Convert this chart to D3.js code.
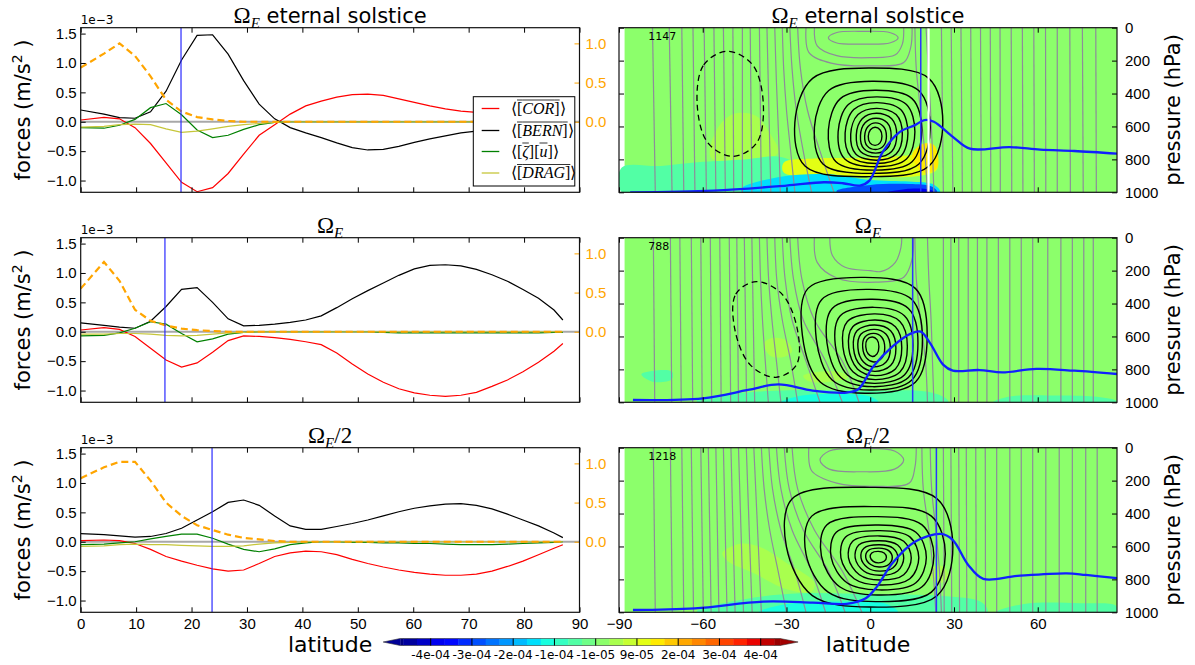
<!DOCTYPE html>
<html><head><meta charset="utf-8">
<script src="https://cdn.jsdelivr.net/npm/d3@7/dist/d3.min.js"></script>
<style>html,body{margin:0;padding:0;background:#fff;} svg{display:block}</style>
</head><body>
<svg id="fig" width="1195" height="665" xmlns="http://www.w3.org/2000/svg"></svg>
<script>
// ================= DATA =================
const lats = [0,4.2,7.0,9.8,12.6,15.4,18.2,21.0,23.8,26.6,29.4,32.2,35.0,37.8,40.6,43.4,46.2,49.0,51.8,54.6,57.4,60.2,63.0,65.8,68.6,71.4,74.2,77.0,79.8,82.6,85.4,87.0];

const corSol  = [0.03,0.075,0.05,-0.1,-0.37,-0.7,-1.03,-1.19,-1.12,-0.88,-0.55,-0.23,-0.05,0.13,0.27,0.35,0.42,0.46,0.47,0.45,0.39,0.33,0.27,0.22,0.18,0.16,0.14,0.13,0.12,0.11,0.1,0.09];
const bernSol = [0.2,0.13,0.07,0.06,0.17,0.52,1.05,1.47,1.48,1.15,0.7,0.3,0.05,-0.1,-0.19,-0.27,-0.36,-0.44,-0.48,-0.47,-0.42,-0.35,-0.29,-0.24,-0.19,-0.16,-0.14,-0.12,-0.11,-0.1,-0.09,-0.08];
const zetaSol = [-0.1,-0.11,-0.06,0.04,0.24,0.31,0.12,-0.14,-0.27,-0.23,-0.13,-0.05,-0.01,0,0,0,0,0,0,0,0,0,0,0,0,0,0,0,0,0,0,0];
const dragSol = [-0.09,-0.08,-0.05,-0.04,-0.05,-0.12,-0.18,-0.16,-0.12,-0.08,-0.05,-0.03,-0.01,0,0,0,0,0,0,0,0,0,0,0,0,0,0,0,0,0,0,0];
const rightSol = [0.69,0.87,1.0,0.84,0.58,0.28,0.13,0.06,0.03,0.01,0,0,0,0,0,0,0,0,0,0,0,0,0,0,0,0,0,0,0,0,0,0];
const corE  = [0.03,0.07,0.04,-0.08,-0.28,-0.48,-0.6,-0.53,-0.35,-0.15,-0.07,-0.08,-0.1,-0.13,-0.17,-0.22,-0.36,-0.55,-0.72,-0.86,-0.97,-1.04,-1.08,-1.1,-1.08,-1.03,-0.93,-0.82,-0.68,-0.52,-0.33,-0.2];
const bernE = [0.15,0.11,0.08,0.06,0.18,0.43,0.72,0.75,0.5,0.22,0.1,0.11,0.13,0.16,0.2,0.27,0.41,0.56,0.7,0.83,0.96,1.07,1.13,1.14,1.12,1.06,0.97,0.86,0.72,0.57,0.37,0.2];
const zetaE = [-0.07,-0.06,-0.02,0.06,0.17,0.13,-0.03,-0.17,-0.12,-0.04,-0.01,0,0,0,0,0,0,0,0,-0.01,-0.02,-0.02,-0.02,-0.02,-0.02,-0.02,-0.02,-0.02,-0.02,-0.02,-0.01,-0.01];
const dragE = [-0.04,-0.04,-0.03,-0.03,-0.04,-0.06,-0.07,-0.06,-0.04,-0.02,-0.01,0,0,0,0,0,0,0,0,0,0,0,0,0,0,0,0,0,0,0,0,0];
const rightE = [0.55,0.89,0.65,0.28,0.14,0.08,0.04,0.02,0.01,0,0,0,0,0,0,0,0,0,0,0,0,0,0,0,0,0,0,0,0,0,0,0];
const corHalf  = [0.02,0.03,0.02,-0.03,-0.13,-0.25,-0.33,-0.4,-0.46,-0.5,-0.48,-0.37,-0.25,-0.19,-0.16,-0.17,-0.22,-0.3,-0.37,-0.43,-0.48,-0.52,-0.55,-0.57,-0.57,-0.55,-0.5,-0.42,-0.33,-0.22,-0.11,-0.05];
const bernHalf = [0.14,0.12,0.1,0.08,0.09,0.14,0.23,0.37,0.51,0.67,0.71,0.62,0.44,0.27,0.21,0.21,0.26,0.31,0.37,0.44,0.51,0.57,0.61,0.64,0.65,0.62,0.56,0.47,0.37,0.27,0.15,0.07];
const zetaHalf = [-0.05,-0.04,-0.02,0,0.05,0.09,0.13,0.13,0.06,-0.04,-0.13,-0.17,-0.12,-0.05,-0.02,0,0,-0.01,-0.01,-0.02,-0.02,-0.03,-0.03,-0.04,-0.05,-0.05,-0.05,-0.04,-0.03,-0.02,-0.01,0];
const dragHalf = [-0.08,-0.07,-0.05,-0.04,-0.05,-0.05,-0.06,-0.07,-0.08,-0.08,-0.07,-0.04,-0.02,-0.01,0,0,0,0,0,0,0,0,0,0,0,0,0,0,0,0,0,0];
const rightHalf = [0.81,0.95,1.02,1.02,0.78,0.5,0.33,0.21,0.15,0.09,0.05,0.03,0.01,0,0,0,0,0,0,0,0,0,0,0,0,0,0,0,0,0,0,0];

const edgeLat = [18.1, 15.2, 23.7];
const panelCounts = ["1147", "788", "1218"];

const forceTicks = [-1.0,-0.5,0.0,0.5,1.0,1.5];
const rightTicks = [0.0,0.5,1.0];
const latTicksL = [0,10,20,30,40,50,60,70,80,90];
const latTicksR = [-90,-60,-30,0,30,60];
const presTicks = [0,200,400,600,800,1000];
const cbTicks = [-4.1e-4,-3.1e-4,-2.1e-4,-1.1e-4,-0.1e-4,0.9e-4,1.9e-4,2.9e-4,3.9e-4];
const cbLabels = ["-4e-04","-3e-04","-2e-04","-1e-04","-1e-05","9e-05","2e-04","3e-04","4e-04"];
const cbRange = [-4.84e-4, 4.37e-4];
const colorNorm = [-4.85e-4, 4.6e-4];

const psiSol  = [[-27,26,245,905],[-20,21.5,325,885],[-15,18.5,380,865],[-11.5,16,420,845],[-9,13.5,455,825],[-7,11.5,490,805],[-5,9.5,520,785],[-3.5,7.5,550,762],[-2,5.8,578,740],[-0.7,4.2,605,715]];
const psiE    = [[-24.3,20.4,241,945],[-19.3,18.7,314,925],[-15.5,17.1,374,905],[-12.5,15.3,423,885],[-9.8,13.3,463,862],[-7.7,11.3,500,838],[-6,9.2,530,812],[-4.4,7.2,557,785],[-2.7,5.2,581,755],[-1.6,3.1,603,722]];
const psiHalf = [[-30,29.6,241,968],[-23,26.9,358,935],[-17.5,22.8,419,895],[-14,20.1,470,864],[-10.5,17.4,504,834],[-7.8,14.7,536,804],[-5.4,12,565,775],[-3.3,9.9,590,750],[-1.6,7.9,610,725],[0,5.8,630,700]];
const psiSkew = [-2, 3.4, 5.5];
const negSol = [-62,-38.3,143,782];
const negE   = [-48.5,-26.1,267,848];
const negSkew = [1, 3.5];

const momSol = [[-78,-77],[-72,-71],[-67.5,-66.8],[-63.5,-62.8],[-59.5,-58.7],[-56,-55.3],[-52.6,-51.9],[-49.2,-48.9],[-45.8,-45.8],[-43,-42.4],[-39.7,-39],[-37,-35.6],[-34.2,-33.6,-32.8,-32.2],
  [-31.5,-31,-30,-28.5,-27],[-28.8,-28,-26.5,-24,-21],[-26,-25,-22.5,-18,-13],
  [16,16.5,18,19.5,20.5],[20,20.8,21.6,22.3,22.8],
  [25.5,26.2],[29,29.6],[32.5,33],[36,36.4],[39.5,39.8],[43,43.2],[46.5,46.6],[50.5,50.7],[54.5,54.7],[58.6,58.8],[62.8,62.9],[67,67],[71.5,71.7],[76,76.3],[80.8,81]];
const momE = [[-77.7,-77.2],[-71.6,-71.1],[-68.2,-67.7],[-64.1,-63.6],[-60.7,-60.2],[-57.3,-56.8],[-53.9,-53.4],[-50.5,-50],[-47.8,-47.2],[-45.1,-44.3],[-42.4,-41.4],
  [-39.7,-39.3,-38.6,-37.6,-36.5],[-37,-36.4,-35.2,-33.6,-32],[-34.2,-33.5,-31.5,-28.5,-26],[-31.5,-30.5,-28,-23,-18],[-28.8,-27.5,-24,-16,-10],[-26,-24.5,-20,-10,-4],
  [16,16.5,18,19.8,20.5],[20.5,21,21.8,22.3,22.8],
  [26.2,26.2],[28.9,28.9],[31.7,31.7],[35.1,35.1],[38.4,38.4],[41.8,41.8],[45.9,45.9],[50,50],[54.1,54.1],[58.2,58.2],[63.6,63.6],[68.3,68.3],[72.4,72.4],[76.5,76.5],[79.9,79.9]];
const momHalf = [[-77.7,-77],[-71.6,-70.9],[-67.5,-66.8],[-64.1,-63.3],[-60.7,-59.8],[-58,-57],[-55.3,-54.2],[-52.6,-51.3],[-49.9,-48.4],[-47.2,-45.4],[-44.4,-42.3],[-41.7,-39],
  [-39,-38,-36,-33,-30],[-36.3,-35,-32,-27,-23],[-33.6,-32,-28,-21,-16],[-30.8,-29,-24,-15,-9],[-28,-26,-20,-10,-3],
  [18.5,19,21,22.5,23.5],[21.5,22,23.5,24.8,25.5],
  [26.2,26.5],[28.9,29.2],[31.7,32],[34.4,34.6],[37.8,38],[41.2,41.3],[45.3,45.3],[50,50],[54.1,54.1],[58.2,58.2],[62.9,62.9],[67.7,67.7],[72.4,72.4],[77.2,77.2],[81.3,81.3]];
const momArcSol  = [[[-20,0],[-19,110],[-12,170],[0,182],[9,165],[11.5,100],[12,0]],[[-23,0],[-22,150],[-14,215],[0,232],[12,212],[14.5,120],[15,0]]];
const momArcE    = [[[-14.5,0],[-13.5,110],[-9,180],[0,200],[4,205],[9,150],[11,60],[11.3,0]],[[-20,0],[-19,150],[-12,245],[2,270],[12,240],[15,130],[15.5,0]]];
const momArcHalf = [[[-22,0],[-21,140],[-12,215],[2,235],[14,215],[16,120],[16.5,0]]];
const momLoopSol = [-15,10,22,100];
const momLoopHalf = [-18,12,4,146];

const fillSol = [
  [0.4e-4,[[-57,790],[-55,620],[-49,525],[-41,535],[-36,640],[-33,760],[-42,815]]],
  [-0.6e-4,[[-89,850],[-75,840],[-60,815],[-45,800],[-32,785],[-24,850],[-18,940],[-20,1000],[-89,1000]]],
  [1.2e-4,[[-31,820],[-20,795],[0,790],[14,775],[23,760],[24,860],[18,900],[0,905],[-20,905],[-31,880]]],
  [1.4e-4,[[15,770],[19,705],[23,715],[24,850],[19,880]]],
  [-1.7e-4,[[-46,975],[-32,905],[-15,890],[0,925],[14,935],[23,955],[25,1000],[-46,1000]]],
  [-2.9e-4,[[-12,990],[0,955],[14,950],[22,965],[24,1000],[-12,1000]]],
  [-3.9e-4,[[6,1000],[14,978],[21,982],[23,1000]]]
];
const fillE = [
  [0.4e-4,[[-38,640],[-35,610],[-30,625],[-28,690],[-31,725],[-36,715]]],
  [0.4e-4,[[-24,840],[-18,815],[-10,820],[-8,850],[-14,875],[-22,872]]],
  [-0.6e-4,[[-82,830],[-76,805],[-71,815],[-71,860],[-78,875]]],
  [-0.6e-4,[[-62,985],[-40,935],[-20,925],[0,930],[20,935],[27,975],[28,1000],[-62,1000]]],
  [-1.4e-4,[[-32,1000],[-25,960],[-10,950],[0,965],[3,1000]]],
  [-0.5e-4,[[44,1000],[50,965],[65,958],[80,965],[88,990],[88,1000]]]
];
const fillHalf = [
  [0.4e-4,[[-53,640],[-47,585],[-40,600],[-30,700],[-20,820],[-21,875],[-30,860],[-42,760],[-51,690]]],
  [0.4e-4,[[22,730],[26,720],[28,780],[25,825],[22,800]]],
  [-0.6e-4,[[-62,990],[-45,920],[-25,885],[0,890],[25,900],[40,940],[42,1000],[-62,1000]]],
  [-1.3e-4,[[-40,1000],[-30,950],[-10,935],[5,945],[10,1000]]],
  [-0.5e-4,[[45,1000],[55,950],[75,945],[88,960],[88,1000]]]
];

const blueSol = [[-86,1000],[-56,990],[-30,959],[-16.6,939],[-9.8,945],[-3.7,959],[-0.3,929],[4.5,755],[10.6,633],[16,592],[19.4,561],[22.8,571],[29.6,663],[35.7,735],[50,725],[60.9,741],[73.1,749],[88.4,765]];
const blueE = [[-85,986],[-60,976],[-43.8,925],[-32.9,891],[-20.6,929],[-8.4,941],[-4.3,921],[1.1,783],[7.9,662],[14.7,581],[18.1,571],[21.5,642],[26.2,773],[29.6,808],[39.1,804],[47.3,818],[59.5,797],[73.1,808],[88.4,828]];
const blueHalf = [[-85,986],[-62.8,976],[-38.3,935],[-20.6,941],[-8.4,949],[-1.6,915],[2.4,844],[7.9,702],[16,571],[25.5,524],[29.6,561],[35.1,712],[40.5,797],[52.7,779],[70.4,763],[77.2,773],[88.4,793]];
const whiteLineSol = 20.9;

const legendNames = ["COR","BERN","zu","DRAG"];

// ================= LAYOUT / STYLE =================
const svg = d3.select("#fig");
const rows = [[27.7,192.3],[237.7,402.3],[447.7,612.3]];
const LX = [80.7,579.5], RX = [619,1117];
const SANS = "DejaVu Sans", SERIF = "Liberation Serif";
const colCOR = "#ff0000", colBERN = "#000000", colZ = "#008000", colDRAG = "#c6c63a", colR = "#ffa500";

function jet(t){
  t = Math.max(0, Math.min(1, t));
  const r = d3.scaleLinear([0,0.35,0.66,0.89,1],[0,0,1,1,0.5]).clamp(true)(t);
  const g = d3.scaleLinear([0,0.125,0.375,0.64,0.91,1],[0,0,1,1,0,0]).clamp(true)(t);
  const b = d3.scaleLinear([0,0.11,0.34,0.65,1],[0.5,1,1,0,0]).clamp(true)(t);
  return d3.rgb(r*255, g*255, b*255).toString();
}
const levStep = (cbTicks[1]-cbTicks[0])/3;
const norm = d3.scaleLinear(colorNorm,[0,1]);
function bandColor(v){
  const i = Math.floor((v - cbTicks[0]) / levStep);
  return jet(norm(cbTicks[0] + (i + 0.5) * levStep));
}

const defs = svg.append("defs");
function clip(id, x0, x1, y0, y1){
  defs.append("clipPath").attr("id", id).append("rect")
    .attr("x", x0).attr("y", y0).attr("width", x1 - x0).attr("height", y1 - y0);
  return "url(#" + id + ")";
}

function title(x, y, suffix, sansText){
  const t = svg.append("text").attr("x", x).attr("y", y).attr("text-anchor","middle").attr("fill","#000");
  t.append("tspan").attr("font-family", SERIF).attr("font-size", 23).text("Ω");
  t.append("tspan").attr("font-family", SERIF).attr("font-style","italic").attr("font-size", 15).attr("dy", 5).text("E");
  if (suffix) t.append("tspan").attr("font-family", SERIF).attr("font-size", 23).attr("dy", -5).text(suffix);
  if (sansText) t.append("tspan").attr("font-family", SANS).attr("font-size", 21).attr("dy", -5).text(" " + sansText);
}

// ================= LEFT COLUMN =================
const leftData = [
  {cor:corSol, bern:bernSol, z:zetaSol, drag:dragSol, r:rightSol},
  {cor:corE, bern:bernE, z:zetaE, drag:dragE, r:rightE},
  {cor:corHalf, bern:bernHalf, z:zetaHalf, drag:dragHalf, r:rightHalf}
];
const titleSuffix = [null, null, "/2"];
const titleSans = ["eternal solstice", null, null];

leftData.forEach((d, i) => {
  const [top, bot] = rows[i];
  const x = d3.scaleLinear([0,90], LX);
  const y = d3.scaleLinear([-1.2,1.6], [bot, top]);
  const y2 = d3.scaleLinear([-0.9,1.2], [bot, top]);
  const g = svg.append("g");
  const gc = g.append("g").attr("clip-path", clip("cl"+i, LX[0], LX[1], top, bot));
  gc.append("line").attr("x1", LX[0]).attr("x2", LX[1]).attr("y1", y(0)).attr("y2", y(0))
    .attr("stroke", "#a8a8a8").attr("stroke-width", 2);
  const line = (arr, sc) => d3.line().x((v,k) => x(lats[k])).y(v => sc(v))(arr);
  [[d.cor,colCOR],[d.bern,colBERN],[d.z,colZ],[d.drag,colDRAG]].forEach(([arr,c]) => {
    gc.append("path").attr("d", line(arr, y)).attr("fill","none").attr("stroke", c).attr("stroke-width", 1.2);
  });
  gc.append("path").attr("d", line(d.r, y2)).attr("fill","none").attr("stroke", colR)
    .attr("stroke-width", 2.2).attr("stroke-dasharray","7,4");
  gc.append("line").attr("x1", x(edgeLat[i])).attr("x2", x(edgeLat[i])).attr("y1", top).attr("y2", bot)
    .attr("stroke", "#2a2aff").attr("stroke-width", 1.2);

  const ax = g.append("g").attr("font-family", SANS);
  ax.append("g").attr("transform", `translate(${LX[0]},0)`)
    .call(d3.axisLeft(y).tickValues(forceTicks).tickSizeInner(-5).tickSizeOuter(0).tickPadding(4).tickFormat(d3.format(".1f")));
  const yr = ax.append("g").attr("transform", `translate(${LX[1]},0)`)
    .call(d3.axisRight(y2).tickValues(rightTicks).tickSizeInner(-5).tickSizeOuter(0).tickPadding(6).tickFormat(d3.format(".1f")));
  yr.selectAll("line").attr("stroke", colR);
  yr.selectAll("text").attr("fill", colR);
  ax.append("g").attr("transform", `translate(0,${top})`)
    .call(d3.axisTop(x).tickValues(latTicksL).tickSizeInner(-5).tickSizeOuter(0).tickFormat(""));
  ax.append("g").attr("transform", `translate(0,${bot})`)
    .call(d3.axisBottom(x).tickValues(latTicksL).tickSizeInner(-5).tickSizeOuter(0).tickPadding(6)
      .tickFormat(i === 2 ? d3.format("d") : ""));
  ax.selectAll(".domain").remove();
  ax.selectAll("text").attr("font-size", 15);

  g.append("rect").attr("x", LX[0]).attr("y", top).attr("width", LX[1]-LX[0]).attr("height", bot-top)
    .attr("fill","none").attr("stroke","#111").attr("stroke-width", 1.2);

  g.append("text").attr("x", LX[0]).attr("y", top - 4).attr("font-family", SANS).attr("font-size", 12).text("1e\u22123");

  const yl2 = g.append("text").attr("transform", `translate(30,${(top+bot)/2}) rotate(-90)`)
    .attr("text-anchor","middle").attr("font-family", SANS).attr("font-size", 21);
  yl2.append("tspan").text("forces (m/s");
  yl2.append("tspan").attr("font-size", 14).attr("dy", -8).text("2");
  yl2.append("tspan").attr("dy", 8).text(" )");

  title((LX[0]+LX[1])/2, top - 5, titleSuffix[i], titleSans[i]);

  if (i === 0) {
    const lg = g.append("g");
    lg.append("rect").attr("x", 473.3).attr("y", 96.7).attr("width", 101.5).attr("height", 89.3)
      .attr("fill","#fff").attr("stroke","#000").attr("stroke-width", 1);
    const parts = [
      [["⟨",0,0],["[",0,1],["COR",1,1],["]",0,1],["⟩",0,0]],
      [["⟨",0,0],["[",0,1],["BERN",1,1],["]",0,1],["⟩",0,0]],
      [["⟨[",0,0],["ζ",1,1],["][",0,0],["u",1,1],["]⟩",0,0]],
      [["⟨",0,0],["[",0,1],["DRAG",1,1],["]",0,1],["⟩",0,0]]
    ];
    const cols = [colCOR, colBERN, colZ, colDRAG];
    const ys = [108.5, 130.5, 151.5, 173];
    legendNames.forEach((nm, k) => {
      lg.append("line").attr("x1", 481.7).attr("x2", 499.3).attr("y1", ys[k]).attr("y2", ys[k])
        .attr("stroke", cols[k]).attr("stroke-width", 1.3);
      let cx = 511;
      const base = ys[k] + 5;
      parts[k].forEach(([s, it, ov]) => {
        const t = lg.append("text").attr("x", cx).attr("y", base).attr("font-family", SERIF)
          .attr("font-size", 16).attr("font-style", it ? "italic" : "normal").text(s);
        const w = t.node().getComputedTextLength();
        if (ov) lg.append("line").attr("x1", cx).attr("x2", cx + w).attr("y1", base - 13.5).attr("y2", base - 13.5)
          .attr("stroke","#000").attr("stroke-width", 0.8);
        cx += w;
      });
    });
  }
});
svg.append("text").attr("x", (LX[0]+LX[1])/2).attr("y", 652).attr("text-anchor","middle")
  .attr("font-family", SANS).attr("font-size", 22).text("latitude");

// ================= RIGHT COLUMN =================
const rightData = [
  {psi:psiSol, neg:negSol, negSkew:negSkew[0], mom:momSol, arcs:momArcSol, loop:momLoopSol, fill:fillSol, blue:blueSol},
  {psi:psiE, neg:negE, negSkew:negSkew[1], mom:momE, arcs:momArcE, loop:null, fill:fillE, blue:blueE},
  {psi:psiHalf, neg:null, negSkew:0, mom:momHalf, arcs:momArcHalf, loop:momLoopHalf, fill:fillHalf, blue:blueHalf}
];

function loopPoints(ext, k, skew, all){
  const [W,E,T,B] = ext, cx = (W+E)/2, cy = (T+B)/2, rx = (E-W)/2, ry = (B-T)/2;
  const dirs = [[-1,0],[-k,-k],[0,-1],[k,-k],[1,0],[k,k],[0,1],[-k,k]];
  return dirs.map(([a,b]) => [cx + a*rx + (all ? skew*b : skew*b*Math.max(0,-a)), cy + b*ry]);
}

rightData.forEach((d, i) => {
  const [top, bot] = rows[i];
  const x = d3.scaleLinear([-90, 88.4], RX);
  const y = d3.scaleLinear([0, 1000], [top, bot]);
  const g = svg.append("g");
  const gc = g.append("g").attr("clip-path", clip("cr"+i, RX[0], RX[1], top, bot));
  gc.append("rect").attr("x", x(-88)).attr("y", top).attr("width", RX[1]-x(-88)).attr("height", bot-top)
    .attr("fill", bandColor(0));
  const closed = d3.line().x(p => x(p[0])).y(p => y(p[1])).curve(d3.curveCatmullRomClosed.alpha(0.5));
  const open = d3.line().x(p => x(p[0])).y(p => y(p[1])).curve(d3.curveCatmullRom.alpha(0.5));
  d.fill.forEach(([v, pts]) => {
    gc.append("path").attr("d", closed(pts)).attr("fill", bandColor(v)).attr("stroke","none");
  });
  const grey = "#8d8d99";
  d.mom.forEach(arr => {
    const pts = arr.map((lat, k) => [lat, 1000 * k / (arr.length - 1)]);
    gc.append("path").attr("d", open(pts)).attr("fill","none").attr("stroke", grey).attr("stroke-width", 1.2);
  });
  d.arcs.forEach(pts => gc.append("path").attr("d", open(pts)).attr("fill","none").attr("stroke", grey).attr("stroke-width", 1.2));
  if (d.loop) gc.append("path").attr("d", closed(loopPoints(d.loop, 0.78, 0, false)))
    .attr("fill","none").attr("stroke", grey).attr("stroke-width", 1.2);
  const rx0 = (d.psi[0][1] - d.psi[0][0]) / 2;
  d.psi.forEach((ext, k) => {
    const kk = 0.81 - 0.09 * k / (d.psi.length - 1);
    const sk = psiSkew[i] * ((ext[1]-ext[0])/2) / rx0;
    gc.append("path").attr("d", closed(loopPoints(ext, kk, sk, false)))
      .attr("fill","none").attr("stroke","#000").attr("stroke-width", 1.4);
  });
  if (d.neg) gc.append("path").attr("d", closed(loopPoints(d.neg, 0.74, d.negSkew, true)))
    .attr("fill","none").attr("stroke","#000").attr("stroke-width", 1.3).attr("stroke-dasharray","6,4");
  gc.append("path").attr("d", open(d.blue)).attr("fill","none").attr("stroke","#1020ff").attr("stroke-width", 2.3);
  gc.append("line").attr("x1", x(edgeLat[i])).attr("x2", x(edgeLat[i])).attr("y1", top).attr("y2", bot)
    .attr("stroke","#2a35ff").attr("stroke-width", 1.5);
  if (i === 0) gc.append("line").attr("x1", x(whiteLineSol)).attr("x2", x(whiteLineSol)).attr("y1", top).attr("y2", bot)
    .attr("stroke","#fff").attr("stroke-width", 2.2);
  gc.append("text").attr("x", x(-79.5)).attr("y", y(0) + 12).attr("font-family", SANS).attr("font-size", 11)
    .text(panelCounts[i]);

  const ax = g.append("g").attr("font-family", SANS);
  ax.append("g").attr("transform", `translate(${RX[1]},0)`)
    .call(d3.axisRight(y).tickValues(presTicks).tickSizeInner(-5).tickSizeOuter(0).tickPadding(8).tickFormat(d3.format("d")));
  ax.append("g").attr("transform", `translate(${RX[0]},0)`)
    .call(d3.axisLeft(y).tickValues(presTicks).tickSizeInner(-5).tickSizeOuter(0).tickFormat(""));
  ax.append("g").attr("transform", `translate(0,${top})`)
    .call(d3.axisTop(x).tickValues(latTicksR).tickSizeInner(-5).tickSizeOuter(0).tickFormat(""));
  ax.append("g").attr("transform", `translate(0,${bot})`)
    .call(d3.axisBottom(x).tickValues(latTicksR).tickSizeInner(-5).tickSizeOuter(0).tickPadding(6)
      .tickFormat(i === 2 ? d3.format("d") : ""));
  ax.selectAll(".domain").remove();
  ax.selectAll("text").attr("font-size", 15);

  g.append("rect").attr("x", RX[0]).attr("y", top).attr("width", RX[1]-RX[0]).attr("height", bot-top)
    .attr("fill","none").attr("stroke","#111").attr("stroke-width", 1.2);

  g.append("text").attr("transform", `translate(1180,${(top+bot)/2}) rotate(-90)`)
    .attr("text-anchor","middle").attr("font-family", SANS).attr("font-size", 21).text("pressure (hPa)");

  title((RX[0]+RX[1])/2, top - 5, titleSuffix[i], titleSans[i]);
});
svg.append("text").attr("x", (RX[0]+RX[1])/2).attr("y", 652).attr("text-anchor","middle")
  .attr("font-family", SANS).attr("font-size", 22).text("latitude");

// ================= COLORBAR =================
const cbX = d3.scaleLinear([cbTicks[0], cbTicks[cbTicks.length-1]], [430.7, 760.7]);
const cbY0 = 638.5, cbY1 = 645.5;
const cb = svg.append("g");
const edges = [cbRange[0]];
for (let v = cbTicks[0] - 2*levStep; v < cbRange[1]; v += levStep) if (v > cbRange[0]) edges.push(v);
edges.push(cbRange[1]);
for (let k = 0; k < edges.length - 1; k++) {
  cb.append("rect").attr("x", cbX(edges[k])).attr("y", cbY0).attr("width", cbX(edges[k+1]) - cbX(edges[k]) + 0.4)
    .attr("height", cbY1 - cbY0).attr("fill", bandColor((edges[k] + edges[k+1]) / 2));
}
const xl = cbX(cbRange[0]), xr = cbX(cbRange[1]);
cb.append("path").attr("d", `M${xl},${cbY0}L${xl-17},${(cbY0+cbY1)/2}L${xl},${cbY1}Z`).attr("fill", jet(0.02));
cb.append("path").attr("d", `M${xr},${cbY0}L${xr+18},${(cbY0+cbY1)/2}L${xr},${cbY1}Z`).attr("fill", jet(0.97));
cb.append("path").attr("d", `M${xl},${cbY0}L${xl-17},${(cbY0+cbY1)/2}L${xl},${cbY1}L${xr},${cbY1}L${xr+18},${(cbY0+cbY1)/2}L${xr},${cbY0}Z`)
  .attr("fill","none").attr("stroke","#333").attr("stroke-width", 0.6);
cbTicks.forEach((v, k) => {
  cb.append("line").attr("x1", cbX(v)).attr("x2", cbX(v)).attr("y1", cbY0).attr("y2", cbY1).attr("stroke","#000").attr("stroke-width", 1);
  cb.append("text").attr("x", cbX(v)).attr("y", 658.5).attr("text-anchor","middle").attr("font-family", SANS)
    .attr("font-size", 12).text(cbLabels[k]);
});
</script>
</body></html>
